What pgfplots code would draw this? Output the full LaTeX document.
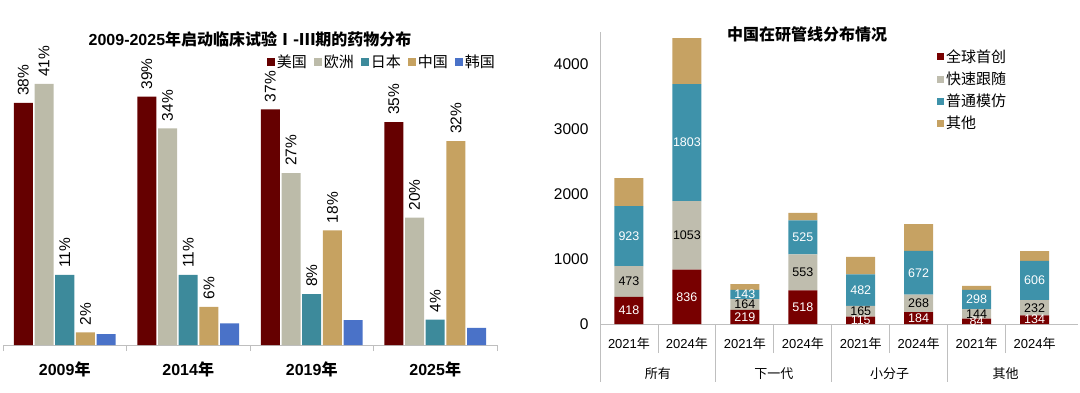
\documentclass[border=0pt]{standalone}
\usepackage{fontspec}
\setmainfont{Liberation Sans}
\newfontfamily\cjk{Noto Sans CJK SC}
\newcommand\cj[1]{{\cjk #1}}
\newcommand\fs[1]{\fontsize{#1}{#1}\selectfont}
\usepackage{pgfplots}
\usepackage{pgfplotstable}
\pgfplotsset{compat=1.18}
\pgfplotsset{/pgf/number format/1000 sep={}, /pgf/number format/assume math mode=true}
\definecolor{lred}{HTML}{650000}
\definecolor{lgray}{HTML}{BCBBA9}
\definecolor{lteal}{HTML}{3D8A9B}
\definecolor{ltan}{HTML}{C6A261}
\definecolor{lblue}{HTML}{4A72C8}
\definecolor{rred}{HTML}{780000}
\definecolor{rgray}{HTML}{BFBDAE}
\definecolor{rteal}{HTML}{3E92AA}
\definecolor{rtan}{HTML}{C6A263}
\definecolor{axgray}{HTML}{BFBFBF}

\pgfplotstableread{
x us eu jp cn kr
0 38 41 11 2 1.7
1 39 34 11 6 3.4
2 37 27 8 18 3.9
3 35 20 4 32 2.7
}\lefttab

\pgfplotstableread{
x a b c d
0 418 473 923 432
1 836 1053 1803 708
2 219 164 143 89
3 518 553 525 112
4 115 165 482 269
5 184 268 672 414
6 84 144 298 59
7 134 232 606 151
}\righttab

\begin{document}
\begin{tikzpicture}
\path[use as bounding box] (0pt,0pt) rectangle (1080pt,392pt);

% ---------------- left chart ----------------
\begin{axis}[
  at={(3pt,47pt)}, anchor=south west, scale only axis,
  width=494pt, height=318.5pt,
  xmin=-0.5, xmax=3.5, ymin=0, ymax=50,
  clip=false,
  ybar=1.7pt, bar width=19pt,
  axis x line*=bottom, axis y line=none,
  x axis line style={draw=axgray, line width=0.8pt},
  xtick={-0.5,0.5,1.5,2.5,3.5}, xticklabels={},
  xtick style={draw=axgray, line width=0.8pt},
  tick align=outside, major tick length=6pt,
  extra x ticks={0,1,2,3},
  extra x tick labels={2009\cj{年},2014\cj{年},2019\cj{年},2025\cj{年}},
  extra x tick style={major tick length=0pt, xtick style={draw=none}, tick label style={font=\bfseries\fs{16}, anchor=center, yshift=-24pt}},
  legend columns=5,
  legend style={draw=none, fill=none, at={(1,0.889)}, anchor=east, font=\fs{15}, inner sep=0pt,
    /tikz/every even column/.append style={column sep=5pt}},
  legend image code/.code={\fill[#1] (0pt,-4pt) rectangle (8pt,4pt);},
  every node near coord/.append style={font=\fs{15.5}, rotate=90, anchor=west, inner xsep=7pt, text=black},
]
\addplot[fill=lred, draw=none, nodes near coords={\pgfmathprintnumber{\pgfplotspointmeta}\%}] table[x=x,y=us] {\lefttab};
\addplot[fill=lgray, draw=none, nodes near coords={\pgfmathprintnumber{\pgfplotspointmeta}\%}] table[x=x,y=eu] {\lefttab};
\addplot[fill=lteal, draw=none, nodes near coords={\pgfmathprintnumber{\pgfplotspointmeta}\%}] table[x=x,y=jp] {\lefttab};
\addplot[fill=ltan, draw=none, nodes near coords={\pgfmathprintnumber{\pgfplotspointmeta}\%}] table[x=x,y=cn] {\lefttab};
\addplot[fill=lblue, draw=none] table[x=x,y=kr] {\lefttab};
\legend{\cj{美国},\cj{欧洲},\cj{日本},\cj{中国},\cj{韩国}}
\end{axis}
\node[font=\bfseries\fs{16}] at (250pt,353pt) {2009-2025\cj{年启动临床试验Ⅰ-Ⅲ期的药物分布}};

% ---------------- right chart ----------------
\begin{axis}[
  at={(600pt,68pt)}, anchor=south west, scale only axis,
  width=478pt, height=292.5pt,
  xmin=-0.5, xmax=7.75, ymin=0, ymax=4500, clip=false,
  ybar stacked, bar width=29pt,
  axis lines*=left,
  axis line style={draw=axgray, line width=0.8pt},
  ytick={0,1000,2000,3000,4000},
  ytick style={draw=none},
  yticklabel style={font=\fs{15.5}, xshift=-8pt},
  xtick={0,1,2,3,4,5,6,7},
  xticklabels={2021\cj{年},2024\cj{年},2021\cj{年},2024\cj{年},2021\cj{年},2024\cj{年},2021\cj{年},2024\cj{年}},
  xtick style={draw=none},
  xticklabel style={font=\fs{13}, anchor=center, yshift=-20pt},
  extra x ticks={0.5,2.5,4.5,6.5},
  extra x tick labels={\cj{所有},\cj{下一代},\cj{小分子},\cj{其他}},
  extra x tick style={tick align=outside, major tick length=29pt,
     xtick style={draw=axgray, line width=0.8pt},
     tick label style={font=\fs{14}, anchor=center, yshift=-1pt}},
  legend style={draw=none, fill=none, at={(0.705,0.945)}, anchor=north west, font=\fs{15}, row sep=4pt, inner sep=0pt},
  legend cell align=left,
  legend image code/.code={\fill[#1] (0pt,-3.5pt) rectangle (7pt,3.5pt);},
]
\addplot[fill=rred, draw=none] table[x=x,y=a] {\righttab};
\addplot[fill=rgray, draw=none] table[x=x,y=b] {\righttab};
\addplot[fill=rteal, draw=none] table[x=x,y=c] {\righttab};
\addplot[fill=rtan, draw=none] table[x=x,y=d] {\righttab};
\legend{\cj{全球首创},\cj{快速跟随},\cj{普通模仿},\cj{其他}}
\draw[axgray, line width=0.8pt] (axis cs:-0.5,0) -- ++(0pt,-58pt);
\draw[axgray, line width=0.8pt] (axis cs:1.5,0) -- ++(0pt,-58pt);
\draw[axgray, line width=0.8pt] (axis cs:3.5,0) -- ++(0pt,-58pt);
\draw[axgray, line width=0.8pt] (axis cs:5.5,0) -- ++(0pt,-58pt);
\end{axis}

% labels overlay
\begin{axis}[
  at={(600pt,68pt)}, anchor=south west, scale only axis,
  width=478pt, height=292.5pt,
  xmin=-0.5, xmax=7.75, ymin=0, ymax=4500, clip=false,
  hide axis,
  every node near coord/.append style={anchor=center, font=\fs{12.5}},
]
\addplot[draw=none, mark=none, nodes near coords, point meta=explicit,
  every node near coord/.append style={text=white}]
  table[x=x, y expr=\thisrow{a}/2, meta=a] {\righttab};
\addplot[draw=none, mark=none, nodes near coords, point meta=explicit,
  every node near coord/.append style={text=black}]
  table[x=x, y expr=\thisrow{a}+\thisrow{b}/2, meta=b] {\righttab};
\addplot[draw=none, mark=none, nodes near coords, point meta=explicit,
  every node near coord/.append style={text=white}]
  table[x=x, y expr=\thisrow{a}+\thisrow{b}+\thisrow{c}/2, meta=c] {\righttab};
\end{axis}
\node[font=\bfseries\fs{16}] at (807pt,358pt) {\cj{中国在研管线分布情况}};
\end{tikzpicture}
\end{document}
